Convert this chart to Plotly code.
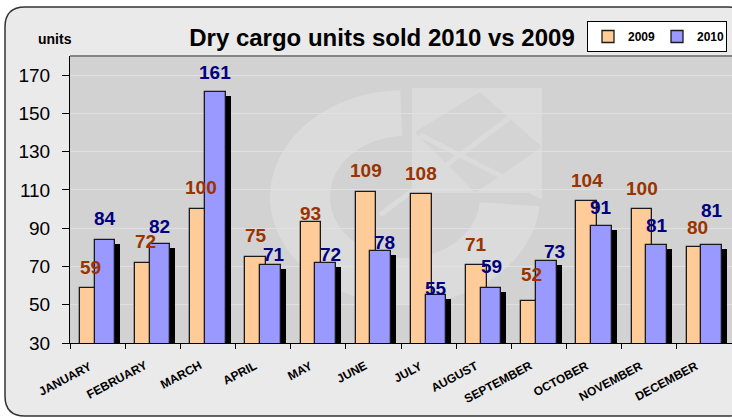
import numpy as np
import plotly.graph_objects as go

# ---------------- data ----------------
months = ["JANUARY", "FEBRUARY", "MARCH", "APRIL", "MAY", "JUNE",
          "JULY", "AUGUST", "SEPTEMBER", "OCTOBER", "NOVEMBER", "DECEMBER"]
sales_2009 = [59, 72, 100, 75, 93, 109, 108, 71, 52, 104, 100, 80]
sales_2010 = [84, 82, 161, 71, 72, 78, 55, 59, 73, 91, 81, 81]
y_ticks = [30, 50, 70, 90, 110, 130, 150, 170]
series_names = ["2009", "2010"]

# label offsets (pixels) as placed in the original chart
label_dy_2009 = [20, 21, 22, 21, 9, 21, 20, 20, 26, 21, 21, 20]
label_dy_2010 = [21, 17, 20, 10, 8, 9, 7, 21, 9, 19, 20, 35]
label_dx_2010 = [0, -1, 0, 4, 5, 4, 0, 0, 8, 0, 0, 0]

# ---------------- style ----------------
W, H = 732, 418
ML, MR, MT, MB = 70, 0, 56, 75
PW, PH = W - ML - MR, H - MT - MB
C_2009, C_2010 = "#FFCC99", "#9999FF"
C_LAB_2009, C_LAB_2010 = "#993300", "#000080"
PLOT_BG, OUTER_BG = "#D2D2D2", "#EAEAEA"
FONT = "Arial, Liberation Sans, sans-serif"

Y_MIN, Y_MAX = 30, 180
px_per_unit = PH / (Y_MAX - Y_MIN)

OFF_A, OFF_B, BW = -0.32, -0.055, 0.375
SHADOW_DX = 5 / (PW / 12)          # 5 px to the right
SHADOW_DY = 4 / px_per_unit         # 4 px lower

def px2paper(x, y):
    return (x - ML) / PW, (H - MB - y) / PH

px2dom = px2paper

fig = go.Figure()

# shadow behind the 2010 bars
fig.add_trace(go.Bar(
    x=months, y=[v - SHADOW_DY for v in sales_2010],
    offset=OFF_B + SHADOW_DX, width=BW,
    marker=dict(color="#000000", line=dict(width=0)),
    showlegend=False, hoverinfo="skip"))
fig.add_trace(go.Bar(
    x=months, y=sales_2009, name=series_names[0],
    offset=OFF_A, width=BW,
    marker=dict(color=C_2009, line=dict(color="#1a1a1a", width=1.3))))
fig.add_trace(go.Bar(
    x=months, y=sales_2010, name=series_names[1],
    offset=OFF_B, width=BW,
    marker=dict(color=C_2010, line=dict(color="#1a1a1a", width=1.3))))

annotations = []
for i, v in enumerate(sales_2009):
    annotations.append(dict(
        x=i + OFF_A + BW / 2, y=v, xref="x", yref="y", text=f"<b>{v}</b>",
        showarrow=False, yanchor="middle", yshift=label_dy_2009[i],
        font=dict(family=FONT, size=19, color=C_LAB_2009)))
for i, v in enumerate(sales_2010):
    annotations.append(dict(
        x=i + OFF_B + BW / 2, y=v, xref="x", yref="y", text=f"<b>{v}</b>",
        showarrow=False, yanchor="middle", yshift=label_dy_2010[i],
        xshift=label_dx_2010[i],
        font=dict(family=FONT, size=19, color=C_LAB_2010)))

# rotated category labels (month names)
_, lab_y = px2paper(0, 356)
for i, m in enumerate(months):
    annotations.append(dict(
        x=i, y=lab_y, xref="x", yref="paper", text=f"<b>{m}</b>",
        showarrow=False, textangle=-28, xanchor="right", yanchor="top", xshift=-1,
        font=dict(family=FONT, size=12, color="#000000")))

ux, uy = px2paper(55, 39)
annotations.append(dict(
    x=ux, y=uy, xref="paper", yref="paper", text="<b>units</b>",
    showarrow=False, xanchor="center", yanchor="middle",
    font=dict(family=FONT, size=14, color="#000000")))

shapes = []

# ---- faint watermark logo (decoration) ----
cx, cy = 405, 197
Rx, Ry, rx, ry = 135, 107, 75, 61
a0, a1 = np.deg2rad(-5), np.deg2rad(-268)
ts = np.linspace(a0, a1, 80)
outer = [(cx + Rx * np.cos(t), cy - Ry * np.sin(t)) for t in ts]
inner = [(cx + rx * np.cos(t), cy - ry * np.sin(t)) for t in ts[::-1]]
pts = outer + inner
path = "M " + " L ".join(f"{px2dom(a, b)[0]:.4f},{px2dom(a, b)[1]:.4f}" for a, b in pts) + " Z"
shapes.append(dict(type="path", path=path, xref="x domain", yref="y domain",
                   fillcolor="#DBDBDB", line=dict(width=0), layer="below"))
sq0, sq1 = px2dom(412, 88), px2dom(542, 193)
shapes.append(dict(type="rect", xref="x domain", yref="y domain",
                   x0=sq0[0], y0=sq1[1], x1=sq1[0], y1=sq0[1],
                   fillcolor="#DBDBDB", line=dict(width=0), layer="below"))
dia = [px2dom(415, 132), px2dom(480, 92), px2dom(542, 147), px2dom(475, 193)]
shapes.append(dict(type="path", xref="x domain", yref="y domain",
                   path="M " + " L ".join(f"{a:.4f},{b:.4f}" for a, b in dia) + " Z",
                   fillcolor="#D4D4D4", line=dict(width=0), layer="below"))
for (p0, p1) in [((380, 215), (513, 115)), ((420, 135), (542, 197))]:
    q0, q1 = px2dom(*p0), px2dom(*p1)
    shapes.append(dict(type="line", xref="x domain", yref="y domain",
                       x0=q0[0], y0=q0[1], x1=q1[0], y1=q1[1],
                       line=dict(color="#DBDBDB", width=5), layer="below"))

# gray frame line at top of plot area
shapes.append(dict(type="line", xref="paper", yref="paper", x0=0, x1=1.01, y0=1.0, y1=1.0,
                   line=dict(color="#858585", width=2)))

# rounded outer border + white outside mask
bx0, by0, bx1, by1, rr = 5, 7, 748, 416, 20
def P(x, y):
    a, b = px2paper(x, y)
    return f"{a:.5f},{b:.5f}"
outer_rect = f"M {P(-20,-20)} L {P(W+30,-20)} L {P(W+30,H+20)} L {P(-20,H+20)} Z"
rounded = (f"M {P(bx0+rr,by0)} L {P(bx1-rr,by0)} Q {P(bx1,by0)} {P(bx1,by0+rr)} "
           f"L {P(bx1,by1-rr)} Q {P(bx1,by1)} {P(bx1-rr,by1)} "
           f"L {P(bx0+rr,by1)} Q {P(bx0,by1)} {P(bx0,by1-rr)} "
           f"L {P(bx0,by0+rr)} Q {P(bx0,by0)} {P(bx0+rr,by0)} Z")
shapes.append(dict(type="path", xref="paper", yref="paper", path=outer_rect + " " + rounded,
                   fillcolor="#FFFFFF", fillrule="evenodd", line=dict(width=0), layer="above"))
shapes.append(dict(type="path", xref="paper", yref="paper", path=rounded,
                   fillcolor="rgba(0,0,0,0)", line=dict(color="#333333", width=1.5), layer="above"))

lx, ly = px2paper(727, 21)

fig.update_layout(
    width=W, height=H, autosize=False,
    margin=dict(l=ML, r=MR, t=MT, b=MB, pad=0, autoexpand=False),
    paper_bgcolor=OUTER_BG, plot_bgcolor=PLOT_BG,
    barmode="overlay", bargap=0,
    font=dict(family=FONT, color="#000000"),
    title=dict(text="<b>Dry cargo units sold 2010 vs 2009</b>",
               x=382 / W, xanchor="center", y=1 - 38 / H, yanchor="middle",
               font=dict(family=FONT, size=24, color="#000000")),
    legend=dict(orientation="h", x=lx, y=ly, xanchor="right", yanchor="top",
                bgcolor="#FFFFFF", bordercolor="#000000", borderwidth=1,
                font=dict(family=FONT, size=12, color="#000000", weight="bold"),
                itemwidth=30, traceorder="normal", tracegroupgap=0,
                entrywidth=24, entrywidthmode="pixels"),
    xaxis=dict(type="category", categoryorder="array", categoryarray=months,
               range=[-0.5, 11.5], showline=True, linecolor="#000000", linewidth=1,
               ticks="outside", tickson="boundaries", ticklen=5, tickcolor="#000000",
               showticklabels=False, showgrid=False, automargin=False),
    yaxis=dict(range=[Y_MIN, Y_MAX], tickvals=y_ticks, showline=True,
               linecolor="#000000", linewidth=1, ticks="outside", ticklen=7,
               tickcolor="#000000", showgrid=True, gridcolor="#E0E0E0", gridwidth=1,
               zeroline=False, ticklabelstandoff=8, automargin=False,
               tickfont=dict(family=FONT, size=19, color="#000000")),
    annotations=annotations, shapes=shapes,
)

fig.write_html("out.html", config={"displayModeBar": False},
               post_script="document.body.style.margin='0px';document.body.style.overflow='hidden';")
